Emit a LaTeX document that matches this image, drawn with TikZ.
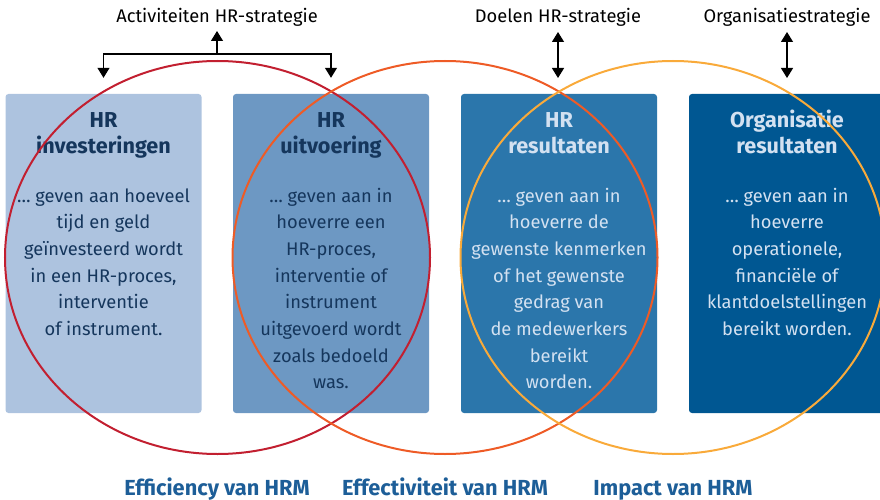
\documentclass[tikz,border=0pt]{standalone}
\usepackage{fontspec}
\setmainfont{Fira Sans}
\usetikzlibrary{arrows.meta,shapes.geometric}

\definecolor{boxA}{HTML}{ADC3DF}
\definecolor{boxB}{HTML}{6D98C3}
\definecolor{boxC}{HTML}{2B76AB}
\definecolor{boxD}{HTML}{005792}
\definecolor{inkDark}{HTML}{15365C}
\definecolor{inkLight}{HTML}{D3E1F1}
\definecolor{ringRed}{HTML}{C21F30}
\definecolor{ringOrange}{HTML}{EE5B26}
\definecolor{ringYellow}{HTML}{F9AA3A}
\definecolor{labelBlue}{HTML}{1D5E98}

% multi-line nodes sit on the baseline of their last line, so each block is
% placed at  first baseline + (lines-1) * 26.7
\tikzset{
  panel/.style={rectangle, rounded corners=3pt, minimum width=196pt,
    minimum height=319pt, inner sep=0pt, draw=none},
  paneltitle/.style={anchor=base, align=center, inner sep=0pt,
    font=\fontsize{21.6}{26.7}\selectfont\bfseries},
  panelbody/.style={anchor=base, align=center, inner sep=0pt,
    font=\fontsize{18.3}{26.7}\selectfont},
  ring/.style={ellipse, draw, line width=2pt, inner sep=0pt,
    minimum width=425pt, minimum height=393pt},
  toplabel/.style={anchor=base, inner sep=0pt, font=\fontsize{18.3}{20}\selectfont},
  bottomlabel/.style={anchor=base, inner sep=0pt, text=labelBlue,
    font=\fontsize{21.8}{24}\selectfont\bfseries},
  arr/.style={line width=1.2pt, -{Triangle[width=12pt,length=10pt]}},
  dblarr/.style={line width=1.2pt, {Triangle[width=12pt,length=10pt]}-{Triangle[width=12pt,length=10pt]}}
}

\begin{document}
\begin{tikzpicture}[x=1pt,y=-1pt]
\useasboundingbox (0,0) rectangle (880,500);
\clip (0,0) rectangle (880,500);

% four result panels
\node[panel, fill=boxA] (b1) at (103.5,253.5) {};
\node[panel, fill=boxB] (b2) at (331,253.5) {};
\node[panel, fill=boxC] (b3) at (559,253.5) {};
\node[panel, fill=boxD] (b4) at (787,253.5) {};

% panel headings (two lines, first baseline at 127)
\node[paneltitle, text=inkDark] (t1) at (103.5,153.7) {HR\\investeringen};
\node[paneltitle, text=inkDark] (t2) at (331,153.7) {HR\\uitvoering};
\node[paneltitle, text=inkLight] (t3) at (559,153.7) {HR\\resultaten};
\node[paneltitle, text=inkLight] (t4) at (787,153.7) {Organisatie\\resultaten};

% panel descriptions (first baseline at 202)
\node[panelbody, text=inkDark] (d1) at (103.5,335.5) {\dots\ geven aan hoeveel\\tijd en geld\\geïnvesteerd wordt\\in een HR-proces,\\interventie\\of instrument.};
\node[panelbody, text=inkDark] (d2) at (331,388.9) {\dots\ geven aan in\\hoeverre een\\HR-proces,\\interventie of\\instrument\\uitgevoerd wordt\\zoals bedoeld\\was.};
\node[panelbody, text=inkLight] (d3) at (559,388.9) {\dots\ geven aan in\\hoeverre de\\gewenste kenmerken\\of het gewenste\\gedrag van\\de medewerkers\\bereikt\\worden.};
\node[panelbody, text=inkLight] (d4) at (787,335.5) {\dots\ geven aan in\\hoeverre\\operationele,\\financiële of\\klantdoelstellingen\\bereikt worden.};

% overlapping rings
\node[ring, draw=ringRed] (eff) at (217.5,257.5) {};
\node[ring, draw=ringOrange] (effect) at (445,257.5) {};
\node[ring, draw=ringYellow] (impact) at (673,257.5) {};

% strategy labels and arrows (tips stop 16pt above the panels)
\node[toplabel] (act) at (217,23) {Activiteiten HR-strategie};
\node[toplabel] (doel) at (558,23) {Doelen HR-strategie};
\node[toplabel] (org) at (787,23) {Organisatiestrategie};

\coordinate (fork) at (217,54);
\draw[arr] (fork) -- (217,31);
\draw[arr] (fork) -| ([yshift=16pt]b1.north);
\draw[arr] (fork) -| ([yshift=16pt]b2.north);
\draw[dblarr] (558,32) -- (558,78);
\draw[dblarr] (787,32) -- (787,78);

% ring captions
\node[bottomlabel] (l1) at (217,495) {Efficiency van HRM};
\node[bottomlabel] (l2) at (445,495) {Effectiviteit van HRM};
\node[bottomlabel] (l3) at (673,495) {Impact van HRM};
\end{tikzpicture}
\end{document}
